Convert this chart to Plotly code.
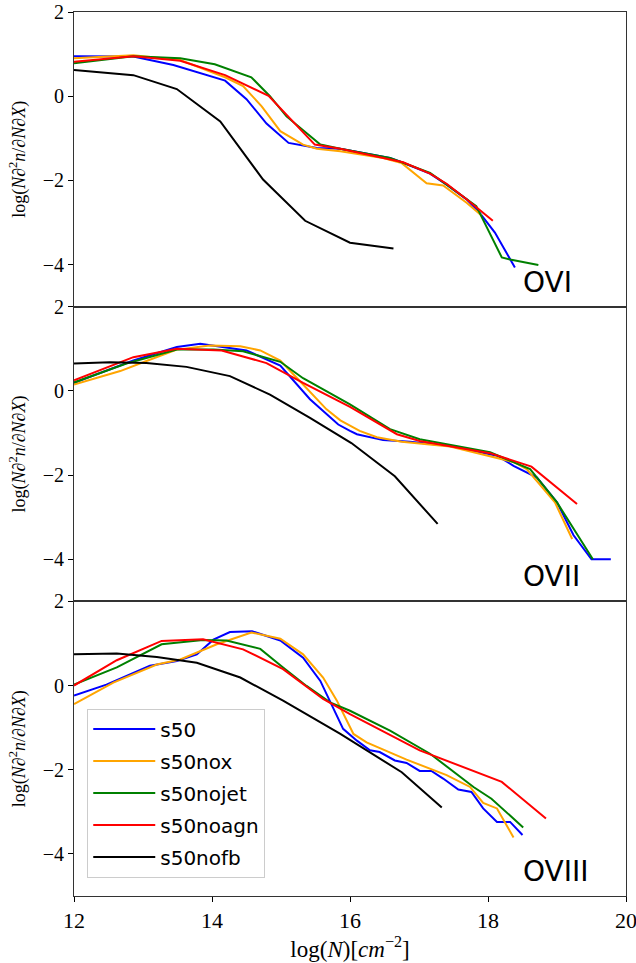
import plotly.graph_objects as go
from plotly.subplots import make_subplots

series_names = ["s50", "s50nox", "s50nojet", "s50noagn", "s50nofb"]
series_colors = ["#0000ff", "#ffa500", "#008000", "#ff0000", "#000000"]
panel_labels = ["OVI", "OVII", "OVIII"]

# ---------------- OVI ----------------
ovi_s50_x = [12.0, 12.86, 13.44, 14.19, 14.50, 14.79, 15.11, 15.52, 15.86, 16.58, 16.75, 17.16, 17.40, 17.69, 17.88, 18.10, 18.39]
ovi_s50_y = [0.95, 0.94, 0.74, 0.37, -0.07, -0.65, -1.11, -1.23, -1.25, -1.47, -1.57, -1.84, -2.10, -2.45, -2.77, -3.24, -4.07]
ovi_nox_x = [12.0, 12.86, 13.54, 14.19, 14.45, 14.72, 14.99, 15.32, 15.52, 15.86, 16.48, 16.75, 17.11, 17.35, 17.69, 17.91]
ovi_nox_y = [0.90, 0.97, 0.86, 0.45, 0.24, -0.24, -0.83, -1.15, -1.25, -1.31, -1.47, -1.59, -2.07, -2.12, -2.53, -2.84]
ovi_nojet_x = [12.0, 12.86, 13.54, 14.04, 14.57, 14.84, 15.08, 15.57, 15.86, 16.58, 16.75, 17.16, 17.40, 17.83, 18.20, 18.32, 18.73]
ovi_nojet_y = [0.78, 0.95, 0.90, 0.76, 0.45, 0.00, -0.48, -1.15, -1.25, -1.47, -1.57, -1.82, -2.10, -2.61, -3.83, -3.88, -4.01]
ovi_noagn_x = [12.0, 12.86, 13.54, 14.19, 14.82, 15.49, 15.86, 16.77, 17.16, 17.40, 17.69, 18.07]
ovi_noagn_y = [0.82, 0.95, 0.84, 0.50, 0.01, -1.15, -1.25, -1.57, -1.84, -2.08, -2.45, -2.96]
ovi_nofb_x = [12.0, 12.86, 13.49, 14.12, 14.74, 15.35, 16.0, 16.63]
ovi_nofb_y = [0.62, 0.50, 0.17, -0.60, -1.98, -2.96, -3.48, -3.62]

# ---------------- OVII ----------------
ovii_s50_x = [12.0, 12.86, 13.49, 13.83, 14.50, 14.99, 15.42, 15.83, 16.0, 16.10, 16.48, 16.87, 17.45, 18.13, 18.37, 18.71, 19.0, 19.24, 19.50, 19.78]
ovii_s50_y = [0.19, 0.72, 1.04, 1.12, 0.96, 0.60, -0.20, -0.80, -0.95, -1.03, -1.17, -1.21, -1.31, -1.54, -1.78, -2.06, -2.65, -3.43, -4.0, -4.0]
ovii_nox_x = [12.0, 12.67, 13.05, 13.49, 13.97, 14.41, 14.70, 14.99, 15.32, 15.66, 15.86, 16.14, 16.39, 16.75, 17.45, 18.03, 18.37, 18.56, 18.97, 19.22]
ovii_nox_y = [0.15, 0.47, 0.71, 0.98, 1.08, 1.06, 0.96, 0.72, 0.15, -0.44, -0.70, -0.95, -1.10, -1.21, -1.32, -1.56, -1.69, -1.86, -2.65, -3.52]
ovii_nojet_x = [12.0, 12.76, 13.49, 14.02, 14.45, 14.99, 15.32, 16.0, 16.58, 17.01, 18.03, 18.61, 19.0, 19.52]
ovii_nojet_y = [0.20, 0.65, 0.98, 0.98, 0.94, 0.69, 0.30, -0.32, -0.91, -1.15, -1.46, -1.86, -2.65, -4.0]
ovii_noagn_x = [12.0, 12.86, 13.49, 14.14, 14.79, 15.32, 16.0, 16.68, 17.01, 18.03, 18.63, 19.29]
ovii_noagn_y = [0.25, 0.80, 1.00, 0.96, 0.66, 0.19, -0.38, -1.03, -1.19, -1.48, -1.80, -2.69]
ovii_nofb_x = [12.0, 12.52, 13.05, 13.63, 14.26, 14.84, 15.42, 16.02, 16.65, 17.27]
ovii_nofb_y = [0.65, 0.68, 0.66, 0.57, 0.35, -0.09, -0.64, -1.24, -2.03, -3.16]

# ---------------- OVIII ----------------
oviii_s50_x = [12.0, 12.47, 13.10, 13.49, 13.78, 14.02, 14.26, 14.58, 14.99, 15.32, 15.57, 15.76, 15.90, 16.10, 16.29, 16.43, 16.65, 16.82, 17.01, 17.18, 17.35, 17.57, 17.76, 17.93, 18.13, 18.32, 18.50]
oviii_s50_y = [-0.24, 0.02, 0.47, 0.58, 0.74, 1.09, 1.27, 1.29, 1.07, 0.66, 0.11, -0.56, -1.03, -1.31, -1.54, -1.58, -1.78, -1.84, -2.03, -2.03, -2.21, -2.47, -2.53, -2.92, -3.24, -3.24, -3.55]
oviii_nox_x = [12.0, 12.57, 13.20, 13.54, 14.07, 14.57, 14.99, 15.32, 15.61, 15.81, 16.05, 16.24, 16.82, 17.16, 17.40, 17.74, 17.93, 18.13, 18.37]
oviii_nox_y = [-0.44, 0.07, 0.50, 0.62, 0.98, 1.26, 1.11, 0.74, 0.19, -0.36, -1.15, -1.35, -1.76, -1.98, -2.13, -2.41, -2.79, -2.92, -3.61]
oviii_nojet_x = [12.0, 12.62, 13.27, 13.87, 14.21, 14.70, 15.03, 15.37, 15.71, 16.0, 16.58, 17.16, 17.79, 18.05, 18.51]
oviii_nojet_y = [0.02, 0.43, 0.98, 1.08, 1.07, 0.87, 0.43, -0.01, -0.40, -0.60, -1.07, -1.62, -2.41, -2.69, -3.37]
oviii_noagn_x = [12.0, 12.62, 13.27, 13.87, 14.45, 15.03, 15.61, 16.0, 17.01, 18.20, 18.84]
oviii_noagn_y = [0.00, 0.60, 1.06, 1.10, 0.86, 0.39, -0.32, -0.68, -1.54, -2.29, -3.16]
oviii_nofb_x = [12.0, 12.62, 13.20, 13.78, 14.41, 15.03, 15.86, 16.75, 17.33]
oviii_nofb_y = [0.74, 0.76, 0.68, 0.54, 0.19, -0.36, -1.15, -2.06, -2.90]

panels = [
    [(ovi_s50_x, ovi_s50_y), (ovi_nox_x, ovi_nox_y), (ovi_nojet_x, ovi_nojet_y), (ovi_noagn_x, ovi_noagn_y), (ovi_nofb_x, ovi_nofb_y)],
    [(ovii_s50_x, ovii_s50_y), (ovii_nox_x, ovii_nox_y), (ovii_nojet_x, ovii_nojet_y), (ovii_noagn_x, ovii_noagn_y), (ovii_nofb_x, ovii_nofb_y)],
    [(oviii_s50_x, oviii_s50_y), (oviii_nox_x, oviii_nox_y), (oviii_nojet_x, oviii_nojet_y), (oviii_noagn_x, oviii_noagn_y), (oviii_nofb_x, oviii_nofb_y)],
]

x_ticks = [12, 14, 16, 18, 20]
y_ticks = [-4, -2, 0, 2]

fig = make_subplots(rows=3, cols=1, shared_xaxes=True, vertical_spacing=0)

for r, panel in enumerate(panels, start=1):
    for i, (xs, ys) in enumerate(panel):
        fig.add_trace(go.Scatter(
            x=xs, y=ys, mode="lines", name=series_names[i],
            line=dict(color=series_colors[i], width=2),
            showlegend=(r == 3), legendgroup=series_names[i],
        ), row=r, col=1)

serif = "Liberation Serif, DejaVu Serif, serif"
ytitle = "log(<i>N</i>∂<sup>2</sup><i>n</i>/∂<i>N</i>∂<i>X</i>)"

for r in range(1, 4):
    fig.update_yaxes(
        range=[-5, 2], tickvals=y_ticks, ticks="outside", ticklen=5, tickwidth=1,
        tickcolor="#000", showline=True, linecolor="#333", linewidth=1, mirror=True,
        showgrid=False, zeroline=False, automargin=False, ticklabeloverflow="allow",
        tickfont=dict(family=serif, size=20, color="#000"),
        title=dict(text=ytitle, font=dict(family=serif, size=18, color="#000"), standoff=12),
        row=r, col=1)
    fig.update_xaxes(
        range=[12, 20], tickvals=x_ticks, showline=True, linecolor="#333", linewidth=1,
        mirror=True, showgrid=False, zeroline=False, automargin=False,
        ticklabeloverflow="allow",
        ticks="outside" if r == 3 else "", ticklen=5, tickcolor="#000",
        showticklabels=(r == 3), tickfont=dict(family=serif, size=22, color="#000"),
        row=r, col=1)

fig.update_xaxes(title=dict(text="log(<i>N</i>)[<i>cm</i><sup>−2</sup>]",
                            font=dict(family=serif, size=23, color="#000"), standoff=2),
                 row=3, col=1)

yrefs = ["y domain", "y2 domain", "y3 domain"]
xrefs = ["x domain", "x2 domain", "x3 domain"]
for k, lab in enumerate(panel_labels):
    fig.add_annotation(text=lab, xref=xrefs[k], yref=yrefs[k], x=0.81, y=0.02,
                       xanchor="left", yanchor="bottom", showarrow=False,
                       font=dict(family="DejaVu Sans", size=28, color="#000"))

fig.update_layout(
    width=636, height=963,
    margin=dict(l=74, r=10, t=12, b=67),
    paper_bgcolor="white", plot_bgcolor="white",
    legend=dict(x=0.024, y=0.212, xanchor="left", yanchor="top",
                bgcolor="rgba(255,255,255,0.8)", bordercolor="#cccccc", borderwidth=1,
                font=dict(family="DejaVu Sans", size=20, color="#000"),
                tracegroupgap=3, itemwidth=62),
    showlegend=True,
)

fig.write_html("out.html")
